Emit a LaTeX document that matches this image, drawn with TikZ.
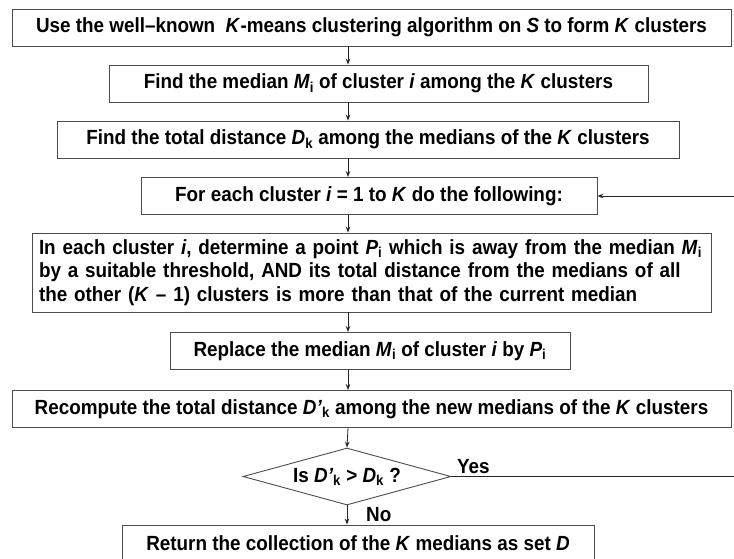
\documentclass[tikz,border=0pt]{standalone}
\usepackage{fontspec}
\setmainfont{Liberation Sans}[FakeStretch=0.92]
\usetikzlibrary{shapes.geometric,arrows.meta}
\begin{document}
\begin{tikzpicture}[x=1pt,y=-1pt,
  lbl/.style={font=\fontsize{20.5}{23.5}\selectfont\bfseries, inner sep=0pt},
  procbox/.style={draw=black!70, line width=0.9pt, fill=white, minimum height=37pt, inner sep=0pt, lbl},
  decbox/.style={draw=black!70, line width=0.9pt, fill=white, diamond, shape aspect=3.65, inner sep=0pt, minimum width=208pt, minimum height=57pt, lbl},
  arr/.style={draw=black!85, line width=0.8pt, -{Stealth[length=6pt,width=4.5pt]}},
  ln/.style={draw=black!85, line width=0.8pt}]
\useasboundingbox (0,0) rectangle (734,558);
\fill[white] (0,0) rectangle (734,558);
\coordinate (ax) at (348,0);
\node[procbox, minimum width=719pt] (b1) at (371.5,27.5) {Use the well–known\ \ \textit{K}-means clustering algorithm on \textit{S} to form \textit{K} clusters};
\node[procbox, minimum width=539pt] (b2) at (378.5,83.5) {Find the median \textit{M}\textsubscript{i} of cluster \textit{i} among the \textit{K} clusters};
\node[procbox, minimum width=622pt] (b3) at (368,139.5) {Find the total distance \textit{D}\textsubscript{k} among the medians of the \textit{K} clusters};
\node[procbox, minimum width=456pt] (b4) at (369,196) {For each cluster \textit{i} = 1 to \textit{K} do the following:};
\node[procbox, minimum width=679pt, minimum height=79pt, text width=665pt, align=left] (b5) at (371.5,272.5) {In each cluster \textit{i}, determine a point \textit{P}\textsubscript{i} which is away from the median \textit{M}\textsubscript{i}\\ by a suitable threshold, AND its total distance from the medians of all\\ the other (\textit{K} – 1) clusters is more than that of the current median};
\node[procbox, minimum width=400pt] (b6) at (370,351) {Replace the median \textit{M}\textsubscript{i} of cluster \textit{i} by \textit{P}\textsubscript{i}};
\node[procbox, minimum width=719pt] (b7) at (371.5,409) {Recompute the total distance \textit{D’}\textsubscript{k} among the new medians of the \textit{K} clusters};
\node[decbox] (dia) at (347,476.5) {Is \textit{D’}\textsubscript{k} > \textit{D}\textsubscript{k} ?};
\node[procbox, minimum width=472pt] (b8) at (358,543.5) {Return the collection of the \textit{K} medians as set \textit{D}};
\node[lbl, anchor=south west] (yes) at (457,474) {Yes};
\node[lbl, anchor=west] (no) at (366,515) {No};
\coordinate (rt) at (740,476.5);
\draw[arr] (b1.south -| ax) -- (b2.north -| ax);
\draw[arr] (b2.south -| ax) -- (b3.north -| ax);
\draw[arr] (b3.south -| ax) -- (b4.north -| ax);
\draw[arr] (b4.south -| ax) -- (b5.north -| ax);
\draw[arr] (b5.south -| ax) -- (b6.north -| ax);
\draw[arr] (b6.south -| ax) -- (b7.north -| ax);
\draw[arr] (b7.south -| ax) -- (dia.north);
\draw[arr] (dia.south) -- (b8.north -| dia.south);
\draw[arr] (dia.east) -- (rt) -- (rt |- b4.east) -- (b4.east);
\end{tikzpicture}
\end{document}
